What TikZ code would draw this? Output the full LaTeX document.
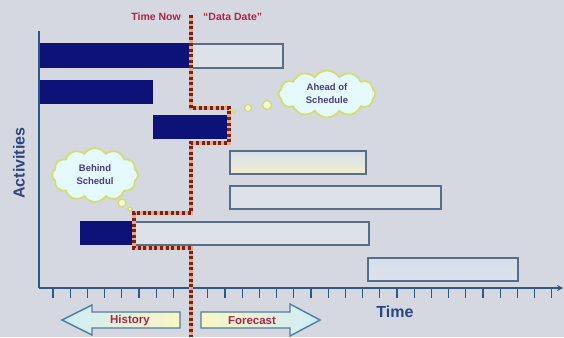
\documentclass[tikz,border=0pt]{standalone}
\usepackage{fontspec}
\setmainfont{Liberation Sans}
\usetikzlibrary{shapes.symbols,arrows.meta}

\definecolor{bg}{RGB}{213,216,224}
\definecolor{navy}{RGB}{12,18,120}
\definecolor{boxedge}{RGB}{88,110,136}
\definecolor{boxfill}{RGB}{221,226,233}
\definecolor{axisblue}{RGB}{46,88,136}
\definecolor{labelblue}{RGB}{44,70,130}
\definecolor{nowred}{RGB}{176,36,70}
\definecolor{dotdark}{RGB}{120,34,24}
\definecolor{dotpale}{RGB}{232,168,136}
\definecolor{cloudfill}{RGB}{228,250,254}
\definecolor{cloudedge}{RGB}{210,222,110}
\definecolor{cloudtext}{RGB}{74,58,138}
\definecolor{arrowedge}{RGB}{78,126,158}
\definecolor{arrowblue}{RGB}{206,236,248}
\definecolor{arrowcream}{RGB}{250,246,196}
\definecolor{planblue}{RGB}{212,224,238}
\definecolor{plancream}{RGB}{242,238,204}

\tikzset{
  donebar/.style={draw=navy, fill=navy, line width=0.8pt, anchor=north west, inner sep=0pt},
  planbar/.style={draw=boxedge, fill=boxfill, line width=1.7pt, anchor=north west, inner sep=0pt},
  axisline/.style={draw=axisblue, line width=2.4pt},
  tickmark/.style={draw=axisblue, line width=1.1pt},
  nowpale/.style={draw=dotpale, line width=4pt},
  nowdots/.style={draw=dotdark, line width=3.2pt, dash pattern=on 3pt off 2.6pt},
  nowlabel/.style={text=nowred, font=\bfseries\fontsize{10.5}{12}\selectfont, inner sep=0pt},
  axislabel/.style={text=labelblue, font=\bfseries\fontsize{16}{18}\selectfont, inner sep=0pt},
  thought/.style={cloud, cloud puffs=12, cloud puff arc=115, aspect=1.8,
    draw=cloudedge, fill=cloudfill, line width=1.8pt, align=center,
    text=cloudtext, font=\bfseries\fontsize{9.5}{13}\selectfont, inner sep=0pt},
  bubble/.style={circle, draw=cloudedge, fill=cloudfill!40!arrowcream, line width=1.4pt, inner sep=0pt},
  spanarrow/.style={draw=arrowedge, line width=1.4pt},
  spanlabel/.style={text=nowred, font=\bfseries\fontsize{11.5}{13}\selectfont, inner sep=0pt},
}

\begin{document}
\begin{tikzpicture}[x=1pt,y=-1pt]
  % page
  \fill[bg] (0,0) rectangle (564,337);
  \useasboundingbox (0,0) rectangle (564,337);

  % planned (remaining) work
  \node[planbar, minimum width=92pt, minimum height=24pt] (r1) at (190,43) {};
  \node[planbar, minimum width=136pt, minimum height=23pt,
        fill=none, top color=planblue, bottom color=plancream, middle color=planblue!50!plancream] (r4) at (229,150) {};
  \node[planbar, minimum width=211pt, minimum height=23pt] (r5) at (229,185) {};
  \node[planbar, minimum width=235pt, minimum height=23pt] (r6) at (133,221) {};
  \node[planbar, minimum width=150pt, minimum height=23pt,
        fill=none, top color=planblue, bottom color=boxfill] (r7) at (367,257) {};

  % completed work
  \node[donebar, minimum width=151pt, minimum height=24pt] (d1) at (39,43) {};
  \node[donebar, minimum width=113pt, minimum height=23pt] (d2) at (39,80) {};
  \node[donebar, minimum width=76pt, minimum height=23pt] (d3) at (153,115) {};
  \node[donebar, minimum width=53pt, minimum height=23pt] (d6) at (80,221) {};

  % axes
  \foreach \k in {0,...,29}
    \draw[tickmark] (53+17.2*\k,288) -- ++(0,10);
  \coordinate (origin) at (39,288);
  \coordinate (ytop) at (39,31);
  \coordinate (xend) at (563,288);
  \draw[axisline] (ytop) -- (origin);
  \draw[axisline, -{Stealth[length=6pt,width=6pt]}] (origin) -- (xend);

  % history / forecast arrows
  \path[spanarrow, left color=arrowblue, right color=arrowcream]
    (62,320) -- (92,305) -- (92,312) -- (180,312) -- (180,328) -- (92,328) -- (92,335) -- cycle;
  \path[spanarrow, left color=arrowcream, right color=arrowblue]
    (201,312) -- (290,312) -- (290,304) -- (320,320) -- (290,336) -- (290,328) -- (201,328) -- cycle;
  \node[spanlabel] (hist) at (130,321) {History};
  \node[spanlabel] (fore) at (252,321) {Forecast};

  % time-now line
  \coordinate (nowtop) at (191,15);
  \coordinate (nowbot) at (191,337);
  \foreach \s in {nowpale,nowdots}
    \draw[\s] (nowtop) -- (191,108) -- (229,108) -- (229,143) -- (191,143)
      -- (191,213) -- (134,213) -- (134,248) -- (191,248) -- (nowbot);

  \node[nowlabel, anchor=east] (nowtxt) at (181,17) {Time Now};
  \node[nowlabel, anchor=west] (datetxt) at (203,17) {“Data Date”};

  % axis titles
  \node[axislabel, rotate=90] (act) at (19,163) {Activities};
  \node[axislabel] (timetxt) at (395,312) {Time};

  % thought clouds
  \node[thought, minimum width=97pt, minimum height=47pt] (ahead) at (327,94) {Ahead of\\Schedule};
  \node[bubble, minimum size=3.5pt] (a0) at (234,111) {};
  \node[bubble, minimum size=7pt] (a1) at (248,108) {};
  \node[bubble, minimum size=9pt] (a2) at (267,105) {};

  \node[thought, minimum width=86pt, minimum height=54pt] (behind) at (95,175) {Behind\\Schedul};
  \node[bubble, minimum size=8pt] (b1) at (122,203) {};
  \node[bubble, minimum size=4pt] (b2) at (130,209) {};
\end{tikzpicture}
\end{document}
